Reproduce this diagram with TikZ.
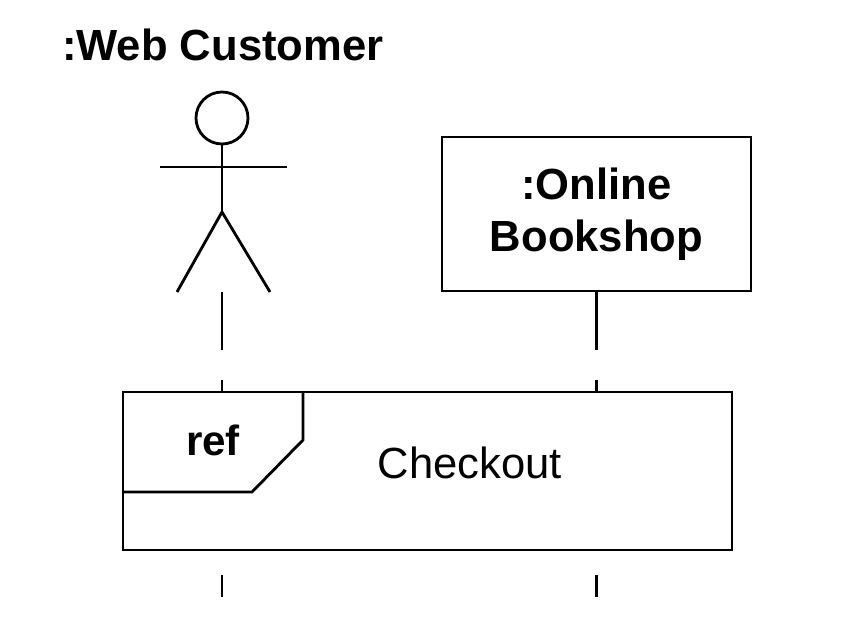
\documentclass[tikz,border=0pt]{standalone}
\usepackage{fontspec}
\setmainfont{Liberation Sans}
\usetikzlibrary{positioning}
\begin{document}
\begin{tikzpicture}[x=0.025cm, y=-0.025cm, line width=2pt,
    lifeline/.style={dash pattern=on 1.45cm off 0.75cm},
    objbox/.style={draw, fill=white, minimum width=7.725cm, minimum height=3.85cm, align=center, font=\fontsize{31}{37}\selectfont\bfseries}]
  \useasboundingbox (0,0) rectangle (860,628);
  \node[font=\fontsize{31}{37}\selectfont\bfseries, anchor=west] (title) at (56,45) {:Web Customer};
  % actor
  \node[draw, circle, minimum size=1.3cm, inner sep=0pt] (head) at (222,118) {};
  \coordinate (hip) at (222,212);
  \coordinate (foot) at (222,292);
  \draw (head.south) -- (hip);
  \draw (160,167) -- (287,167);
  \draw (177,292) -- (hip) -- (270,292);
  % object
  \node[objbox] (shop) at (596.5,214) {:Online\\Bookshop};
  \coordinate (shopend) at (596.5,597);
  \coordinate (custend) at (222,597);
  \draw[lifeline] (foot) -- (222,392);
  \draw (222,575) -- (custend);
  \draw (shop.south) -- (596.5,350);
  \draw (596.5,380) -- (596.5,392);
  \draw (596.5,575) -- (shopend);
  % interaction use
  \draw[fill=white] (123,392) rectangle (732,550);
  \draw (123,492) -- (252,492) -- (303,440) -- (303,392);
  \node[font=\fontsize{30}{36}\selectfont\bfseries] (ref) at (213,440) {ref};
  \node[font=\fontsize{31}{37}\selectfont] (checkout) at (470,463) {Checkout};
\end{tikzpicture}
\end{document}
